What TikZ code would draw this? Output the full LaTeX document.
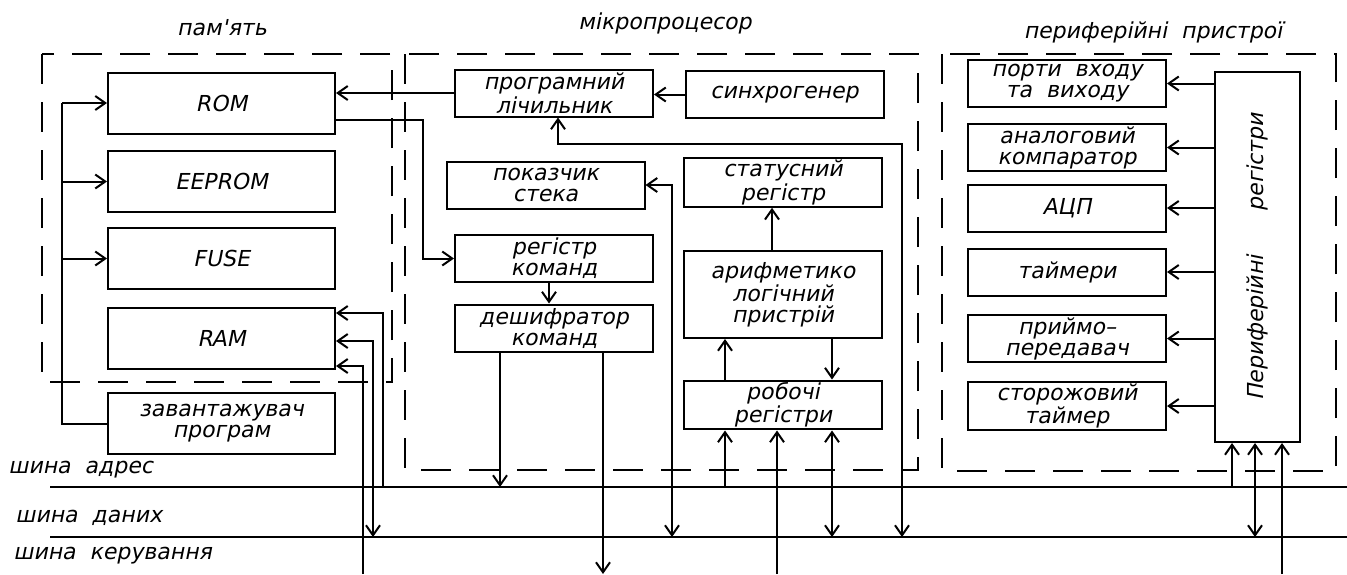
\documentclass[tikz,border=0pt]{standalone}
\usepackage{fontspec}
\newfontfamily\cadfont{DejaVu Sans}[FakeSlant=0.2]
\usetikzlibrary{positioning,arrows.meta,calc}

\tikzset{
  every node/.style={font=\cadfont\fontsize{11}{10.5}\selectfont},
  blk/.style={draw,line width=1pt,align=center,inner sep=1pt},
  mblk/.style={blk,minimum width=113.5pt,minimum height=30.5pt},
  pblk/.style={blk,minimum width=99pt,minimum height=23.5pt},
  grp/.style={draw,line width=1pt,dash pattern=on 15pt off 9pt},
  wire/.style={line width=1pt},
  arr/.style={wire,-{Straight Barb[length=5pt,width=7pt]}},
  arrb/.style={wire,{Straight Barb[length=5pt,width=7pt]}-{Straight Barb[length=5pt,width=7pt]}},
  buslbl/.style={anchor=west,inner sep=0pt}
}

\begin{document}
\begin{tikzpicture}[x=0.5pt,y=-0.5pt]
  \useasboundingbox (0,0) rectangle (1347,574);

  % groups
  \draw[grp] (42,54) rectangle (392,382);
  \draw[grp] (405,54) rectangle (918,470);
  \draw[grp] (942,54) rectangle (1336,471);
  \node (memlbl) at (222,28) {пам'ять};
  \node (cpulbl) at (665,23) {мікропроцесор};
  \node (perlbl) at (1153,32) {периферійні\ \ пристрої};

  % memory
  \node[mblk] (rom) at (221.5,103) {ROM};
  \node[mblk] (eep) at (221.5,181.5) {EEPROM};
  \node[mblk] (fuse) at (221.5,258.5) {FUSE};
  \node[mblk] (ram) at (221.5,338) {RAM};
  \node[mblk] (ldr) at (221.5,423.5) {завантажувач\\програм};

  % microprocessor
  \node[pblk] (pc) at (554,93) {програмний\\лічильник};
  \node[pblk] (sync) at (784.5,94.5) {синхрогенер};
  \node[pblk] (sp) at (545.5,185) {показчик\\стека};
  \node[pblk] (sreg) at (783,182.5) {статусний\\регістр};
  \node[pblk] (ir) at (554,258.5) {регістр\\команд};
  \node[pblk,minimum height=43.5pt] (alu) at (783,294.5) {арифметико\\логічний\\пристрій};
  \node[pblk] (dec) at (554,328) {дешифратор\\команд};
  \node[pblk] (wreg) at (783,405) {робочі\\регістри};

  % peripherals
  \node[pblk] (ports) at (1067,83.5) {порти\ \ входу\\та\ \ виходу};
  \node[pblk] (acomp) at (1067,147.5) {аналоговий\\компаратор};
  \node[pblk] (adc) at (1067,208) {АЦП};
  \node[pblk] (tmr) at (1067,272) {таймери};
  \node[pblk] (uart) at (1067,338.5) {приймо–\\передавач};
  \node[pblk] (wdt) at (1067,406) {сторожовий\\таймер};
  \node[blk,minimum width=42.5pt,minimum height=185pt] (preg) at (1257.5,257)
    {\rotatebox{90}{Периферійні\qquad регістри}};

  % buses
  \coordinate (ab) at (50,487);
  \coordinate (db) at (50,537);
  \coordinate (kb) at (50,574);
  \draw[wire] (ab) -- ++(1297,0);
  \draw[wire] (db) -- ++(1297,0);
  \node[buslbl] (abl) at (8,470) {шина\ \ адрес};
  \node[buslbl] (dbl) at (15,518) {шина\ \ даних};
  \node[buslbl] (kbl) at (13,556) {шина\ \ керування};

  % memory links
  \coordinate (lbus) at (62,103);
  \draw[wire] (ldr.west) -| (lbus);
  \foreach \m in {rom,eep,fuse}
    \draw[arr] (lbus |- \m.west) -- (\m.west);
  \draw[arr] (pc.west) -- (pc.west -| rom.east);
  \draw[arr] ($(rom.east)+(0,17)$) -| ($(ir.west)+(-31,0)$) -- (ir.west);
  \draw[arr] (ab -| 383,0) |- ($(ram.east)+(0,-25)$);
  \draw[arrb] (db -| 373,0) |- ($(ram.east)+(0,3)$);
  \draw[arr] (kb -| 363,0) |- ($(ram.east)+(0,28)$);

  % microprocessor links
  \draw[arr] (sync.west) -- (sync.west -| pc.east);
  \draw[arrb] ($(pc.south)+(4,0)$) |- (902,144) -- (db -| 902,0);
  \draw[arrb] (sp.east) -| (db -| 672,0);
  \draw[arr] ($(alu.north)+(-11,0)$) -- ($(sreg.south)+(-11,0)$);
  \draw[arr] ($(wreg.north)+(-58,0)$) -- ($(alu.south)+(-58,0)$);
  \draw[arr] ($(alu.south)+(49,0)$) -- ($(wreg.north)+(49,0)$);
  \draw[arr] (ab -| 725,0) -- ($(wreg.south)+(-58,0)$);
  \draw[arr] (kb -| 777,0) -- ($(wreg.south)+(-6,0)$);
  \draw[arrb] (db -| 832,0) -- ($(wreg.south)+(49,0)$);
  \draw[arr] ($(ir.south)+(-5,0)$) -- ($(dec.north)+(-5,0)$);
  \draw[arr] ($(dec.south)+(-54,0)$) -- (ab -| 500,0);
  \draw[arr] ($(dec.south)+(49,0)$) -- (kb -| 603,0);

  % peripheral links
  \foreach \p in {ports,acomp,adc,tmr,uart,wdt}
    \draw[arr] (preg.west |- \p.east) -- (\p.east);
  \draw[arr] (ab -| 1232,0) -- (preg.south -| 1232,0);
  \draw[arrb] (db -| 1255,0) -- (preg.south -| 1255,0);
  \draw[arr] (kb -| 1282,0) -- (preg.south -| 1282,0);
\end{tikzpicture}
\end{document}
